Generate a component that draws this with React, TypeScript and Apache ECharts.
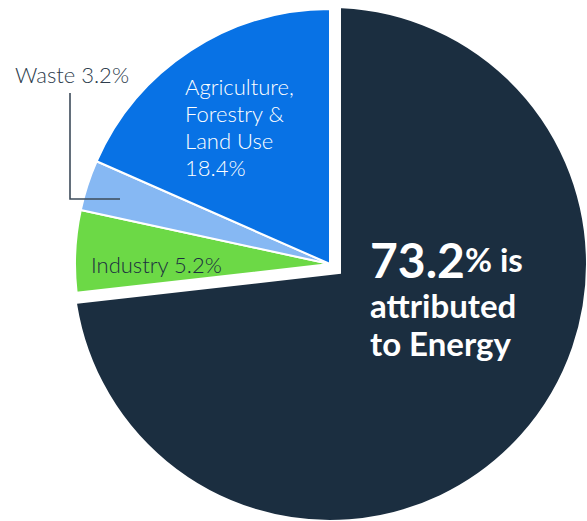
import React, { useEffect, useRef } from "react";
import * as echarts from "echarts";

// ---- data ----
const categories = ["Energy", "Industry", "Waste", "Agriculture, Forestry & Land Use"];
const labelNames = ["Energy", "Industry", "Waste", "Agriculture,\nForestry &\nLand Use"];
const shares = [73.2, 5.2, 3.2, 18.4];
const colors = ["#1B2E40", "#6CD946", "#86B8F3", "#0872E5"];
const energyPhrase = ["% is", "attributed", "to Energy"];

const FONT = "Lato, 'Noto Sans', sans-serif";

export default function App() {
  const ref = useRef<HTMLDivElement>(null);
  useEffect(() => {
    document.body.style.margin = "0";
    const chart = echarts.init(ref.current!, undefined, { renderer: "svg" });

    const center = [330, 264];

    const energyData = categories.map((c, i) =>
      i === 0
        ? {
            name: c,
            value: shares[i],
            itemStyle: { color: colors[i], borderColor: "#ffffff", borderWidth: 22, borderJoin: "miter" },
            label: {
              show: true,
              position: "inside",
              formatter: (p: any) =>
                `{big|${p.value}}{mid|${energyPhrase[0]}}\n{mid|${energyPhrase[1]}}\n{mid|${energyPhrase[2]}}`,
              rich: {
                big: { fontFamily: FONT, fontWeight: "bold", fontSize: 48, color: "#fff", lineHeight: 54 },
                mid: { fontFamily: FONT, fontWeight: "bold", fontSize: 33, color: "#fff", lineHeight: 38 },
              },
            },
            labelLine: { show: false },
          }
        : {
            name: c,
            value: shares[i],
            itemStyle: { color: "transparent", borderWidth: 0 },
            label: { show: false },
            labelLine: { show: false },
          }
    );

    const otherData = categories.map((c, i) =>
      i === 0
        ? {
            name: c,
            value: shares[i],
            itemStyle: { color: "transparent", borderWidth: 0 },
            label: { show: false },
            labelLine: { show: false },
          }
        : {
            name: c,
            value: shares[i],
            itemStyle: { color: colors[i], borderColor: "#ffffff", borderWidth: 2 },
            label: {
              show: true,
              position: "outside",
              formatter: (p: any) =>
                i === 3 ? `${labelNames[i]}\n${p.value}%` : `${labelNames[i]} ${p.value}%`,
              fontFamily: FONT,
              fontWeight: 300,
              fontSize: 22,
              lineHeight: 27,
              color: i === 3 ? "#ffffff" : i === 1 ? "#1B2E40" : "#2E3D4D",
            },
            labelLine: { show: false },
          }
    );

    chart.setOption({
      animation: false,
      backgroundColor: "#ffffff",
      graphic: [
        {
          type: "polyline",
          z: 100,
          silent: true,
          shape: {
            points: [
              [70, 93],
              [70, 199],
              [120, 199],
            ],
          },
          style: { stroke: "#3D4B5A", lineWidth: 1.6, fill: "none" },
        },
      ],
      series: [
        {
          type: "pie",
          z: 1,
          center,
          radius: 267,
          startAngle: 90,
          clockwise: true,
          avoidLabelOverlap: false,
          emphasis: { disabled: true },
          silent: true,
          data: energyData,
          labelLayout: (p: any) => {
            if (p.dataIndex === 0) return { x: 370, y: 232, align: "left", verticalAlign: "top" };
            return {};
          },
        },
        {
          type: "pie",
          z: 2,
          center,
          radius: 255,
          startAngle: 90,
          clockwise: true,
          avoidLabelOverlap: false,
          emphasis: { disabled: true },
          silent: true,
          data: otherData,
          labelLayout: (p: any) => {
            const i = p.dataIndex;
            if (i === 3) return { x: 185, y: 73, align: "left", verticalAlign: "top" };
            if (i === 1) return { x: 91, y: 264, align: "left", verticalAlign: "middle" };
            if (i === 2) return { x: 15, y: 74, align: "left", verticalAlign: "middle" };
            return {};
          },
        },
      ],
    });
    return () => chart.dispose();
  }, []);
  return <div ref={ref} style={{ width: 587, height: 521 }} />;
}
